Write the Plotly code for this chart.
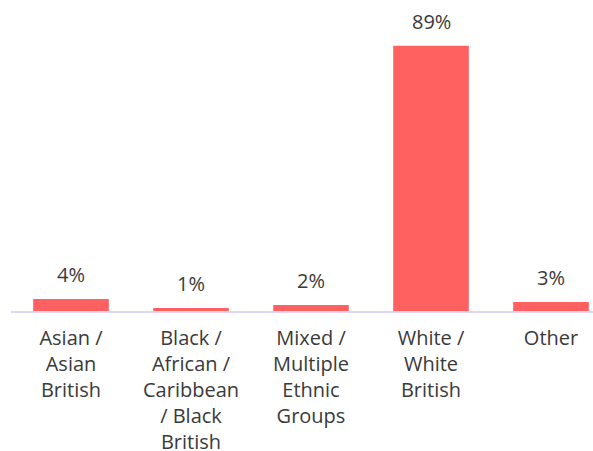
import plotly.graph_objects as go

categories = ["Asian /<br>Asian<br>British",
              "Black /<br>African /<br>Caribbean<br>/ Black<br>British",
              "Mixed /<br>Multiple<br>Ethnic<br>Groups",
              "White /<br>White<br>British",
              "Other"]
values = [4, 1, 2, 89, 3]
value_labels = ["4%", "1%", "2%", "89%", "3%"]

FONT = "Open Sans, Lato, sans-serif"
TEXT_COLOR = "#3a3a3a"

fig = go.Figure(go.Bar(
    x=categories, y=values,
    marker=dict(color="#ff6160", line=dict(width=0)),
    width=0.63,
    hoverinfo="skip",
))

for c, v, t in zip(categories, values, value_labels):
    fig.add_annotation(x=c, y=v, text=t, showarrow=False,
                       yanchor="bottom", yshift=9,
                       font=dict(family=FONT, size=20, color=TEXT_COLOR))

fig.update_layout(
    width=593, height=451,
    margin=dict(l=11, r=0, t=13, b=140, autoexpand=False),
    paper_bgcolor="white", plot_bgcolor="white",
    showlegend=False,
    font=dict(family=FONT, size=20, color=TEXT_COLOR),
    xaxis=dict(range=[-0.5, 4.35], showline=True, linecolor="#dcd6f4",
               linewidth=2, showgrid=False, ticks="", ticklabelstandoff=8,
               automargin=False,
               tickfont=dict(family=FONT, size=20, color=TEXT_COLOR)),
    yaxis=dict(range=[0, 100], visible=False, showgrid=False, zeroline=False,
               automargin=False),
)

fig.write_html("out.html",
               config={"displayModeBar": False, "staticPlot": True},
               post_script="document.body.style.margin='0';document.body.style.overflow='hidden';")
